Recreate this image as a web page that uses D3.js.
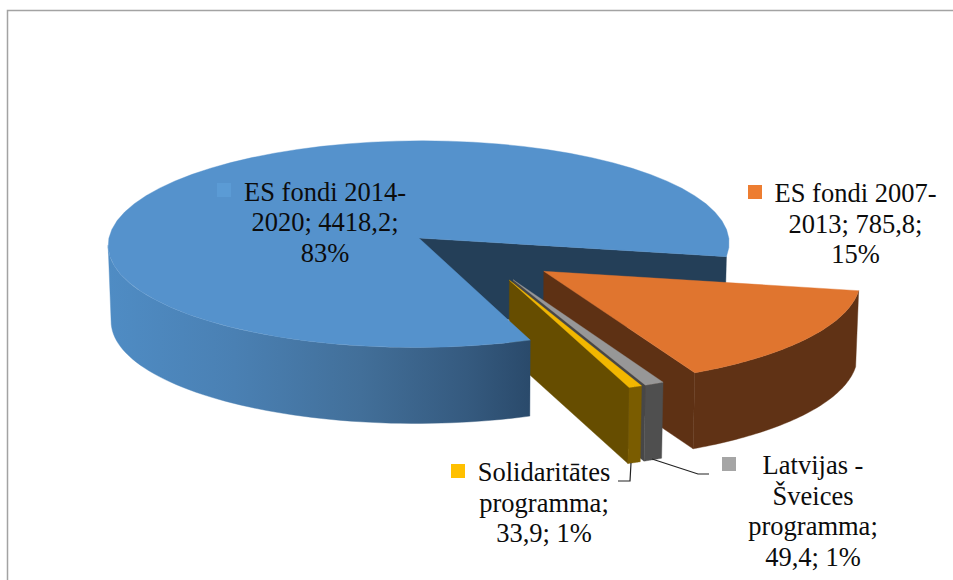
<!DOCTYPE html>
<html>
<head>
<meta charset="utf-8">
<script src="https://cdn.jsdelivr.net/npm/d3@7"></script>
<style>
  html, body { margin: 0; padding: 0; background: #fff; }
  svg { display: block; }
  text { font-family: "Liberation Serif", serif; font-size: 26.5px; fill: #0c0c0c; text-anchor: middle; }
</style>
</head>
<body>
<div id="vis"></div>
<script>
const width = 953, height = 580;

// Dati no attēla
const programmas = ["ES fondi 2014-2020", "ES fondi 2007-2013", "Latvijas - Šveices programma", "Solidaritātes programma"];
const vertibas   = [4418.2, 785.8, 49.4, 33.9];
const topColors  = ["#5592cc", "#e0752f", "#979797", "#f2b700"];
const keyColors  = ["#5b9bd5", "#ed7d31", "#a5a5a5", "#ffc000"];
const sideColors = ["#243f58", "#5e3114", "#474747", "#664d00"];
const frontColors = ["#3d6d9b", "#603215", "#4f4f4f", "#7a5c00"];
const labelLines = [
  ["ES fondi 2014-", "2020; 4418,2;", "83%"],
  ["ES fondi 2007-", "2013; 785,8;", "15%"],
  ["Latvijas -", "Šveices", "programma;", "49,4; 1%"],
  ["Solidaritātes", "programma;", "33,9; 1%"]
];

// Izkārtojums
const labelPos = [[325, 200.5], [855.5, 202], [813, 474], [544, 481]];
const keyPos   = [[217, 183], [748, 185], [722, 457], [451, 464]];
const leaders  = [null, null,
  [[652, 459], [698, 474], [709, 474]],
  [[631, 463], [630, 481], [618, 481]]];

const cx = 479.5, cy = 255, Rx = 313, Ry = 105, persp = 0.06, depth = 76, explode = 0.255;
const rad = d => d * Math.PI / 180;

const svg = d3.select("#vis").append("svg").attr("width", width).attr("height", height);

// perspektīva: tuvākie punkti nedaudz lielāki
function project(u, v, low) {
  const s = 1 / (1 - persp * v);
  const x = cx + Rx * u * s, y = cy + Ry * v * s;
  return low ? [cx + (x - cx) * 0.992, y + depth] : [x, y];
}

const pie = d3.pie().sort(null).value(d => d).startAngle(rad(159.5)).endAngle(rad(159.5 + 360));
const slices = pie(vertibas).map((d, i) => {
  // d3 leņķis 0 = augša, pulksteņrādītāja virzienā
  const a0 = d.startAngle - Math.PI / 2, a1 = d.endAngle - Math.PI / 2, mid = (a0 + a1) / 2;
  return { i, a0, a1, ox: explode * Math.cos(mid), oy: explode * Math.sin(mid) };
});

const line = d3.line();
const pt = (s, a, low) => project(s.ox + Math.cos(a), s.oy + Math.sin(a), low);
const apex = (s, low) => project(s.ox, s.oy, low);
const rim = (s, a0, a1, low) => d3.range(0, 61).map(k => pt(s, a0 + (a1 - a0) * k / 60, low));

const defs = svg.append("defs");
const grad = defs.append("linearGradient").attr("id", "blueWall").attr("gradientUnits", "userSpaceOnUse")
  .attr("x1", 108).attr("x2", 530).attr("y1", 0).attr("y2", 0);
[[0, "#4f8cc4"], [0.3, "#4a80b3"], [0.6, "#426f99"], [0.85, "#355a7f"], [1, "#2a4a6b"]].forEach(g =>
  grad.append("stop").attr("offset", g[0]).attr("stop-color", g[1]));

const shape = (pts, fill) => svg.append("path").attr("d", line(pts) + "Z").attr("fill", fill)
  .attr("stroke", fill).attr("stroke-width", 0.4);

// rāmis
svg.append("path").attr("d", "M7.5,580V10.5H953").attr("fill", "none").attr("stroke", "#a3a3a3").attr("stroke-width", 1.5);

const [blue, orange, grey, gold] = slices;

// zilā griezuma iekšējā siena
shape([apex(blue), pt(blue, blue.a1), pt(blue, blue.a1, true), apex(blue, true)], sideColors[0]);

// pārējie griezumi
[orange, grey, gold].forEach(s => {
  shape([apex(s), pt(s, s.a1), pt(s, s.a1, true), apex(s, true)], sideColors[s.i]);
  const low = rim(s, s.a0, s.a1, true);
  shape(rim(s, s.a0, s.a1).concat(low.reverse()), frontColors[s.i]);
  shape([apex(s)].concat(rim(s, s.a0, s.a1)), topColors[s.i]);
});

// zilais griezums pa virsu
const wallEnd = rad(176);
const low = rim(blue, blue.a0, wallEnd, true);
shape(rim(blue, blue.a0, wallEnd).concat(low.reverse()), "url(#blueWall)");
shape([apex(blue)].concat(rim(blue, blue.a0, blue.a1)), topColors[0]);

// līnijas
leaders.forEach(l => {
  if (l) svg.append("path").attr("d", line(l)).attr("fill", "none").attr("stroke", "#222").attr("stroke-width", 1.2);
});

// leģendas kvadrātiņi un teksti
keyPos.forEach((p, i) => svg.append("rect").attr("x", p[0]).attr("y", p[1]).attr("width", 14).attr("height", 14).attr("fill", keyColors[i]));
labelLines.forEach((lines, i) => {
  const t = svg.append("text").attr("x", labelPos[i][0]).attr("y", labelPos[i][1]);
  lines.forEach((s, j) => t.append("tspan").attr("x", labelPos[i][0]).attr("dy", j ? 30.7 : 0).text(s));
});
</script>
</body>
</html>
